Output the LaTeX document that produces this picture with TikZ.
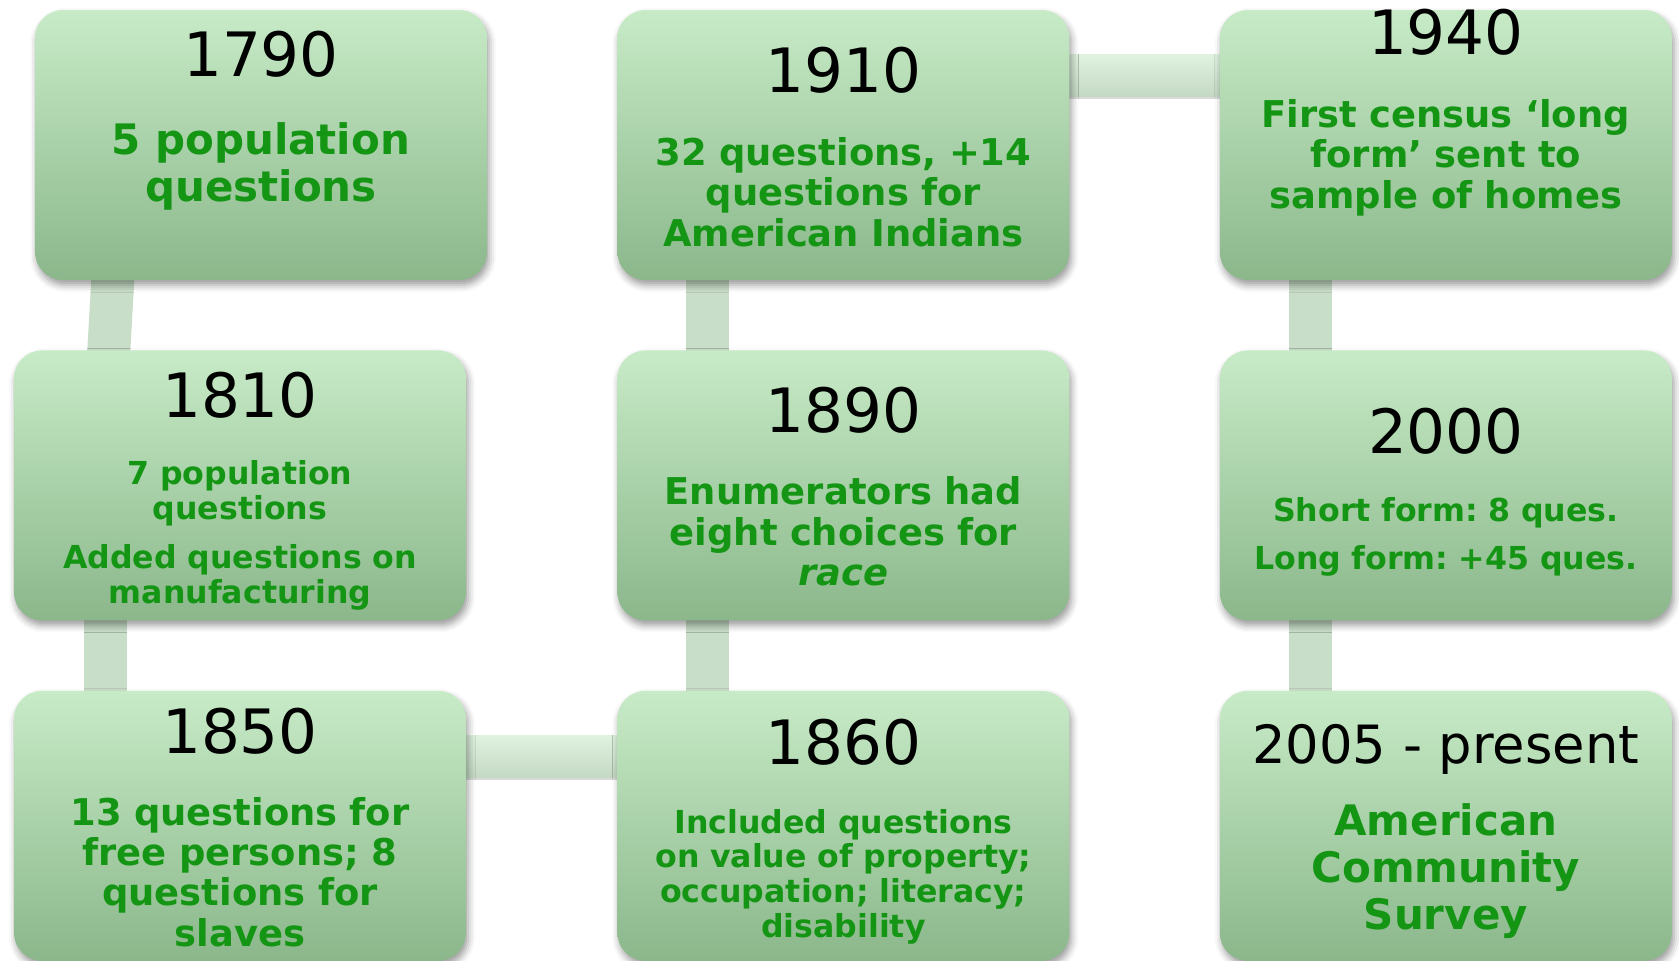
\documentclass[tikz,border=0pt]{standalone}
\usepackage{fontspec}
\setmainfont{DejaVu Sans}
\usepackage{tikz}
\usetikzlibrary{positioning,backgrounds,shadows,shadows.blur}
\usepackage{xcolor}
\frenchspacing

\definecolor{cardtop}{RGB}{199,235,199}
\definecolor{cardbot}{RGB}{139,183,139}
\definecolor{txtgreen}{RGB}{20,150,20}
\definecolor{linkgreen}{RGB}{201,222,201}
\definecolor{linktop}{RGB}{224,242,224}
\definecolor{linkbot}{RGB}{196,217,196}

\begin{document}
\begin{tikzpicture}[
    card/.style={rectangle, rounded corners=0.28cm, minimum width=4.52cm, minimum height=2.70cm, inner sep=0pt,
        top color=cardtop, bottom color=cardbot,
        blur shadow={shadow xshift=0.02cm, shadow yshift=-0.05cm, shadow blur radius=0.07cm}},
    yearlbl/.style={anchor=base, inner sep=0pt, font=\fontsize{17.4}{20}\selectfont},
    desc/.style={anchor=base, inner sep=0pt, text width=4.4cm, align=center, text=txtgreen},
    descL/.style={desc, font=\bfseries\fontsize{11.95}{13.4}\selectfont},
    descM/.style={desc, font=\bfseries\fontsize{10.5}{11.5}\selectfont},
    descS/.style={desc, font=\bfseries\fontsize{9}{9.9}\selectfont},
    vlink/.style={draw=linkgreen, line width=0.43cm},
    hlink/.style={top color=linktop, bottom color=linkbot, drop shadow={shadow xshift=0cm, shadow yshift=-0.03cm, opacity=0.3}}
]
\useasboundingbox (0,0) rectangle (16.79,-9.60);

\node[card] (b1790) at (2.61,-1.45) {};
\node[card, below=0.69cm of b1790, xshift=-0.21cm] (b1810) {};
\node[card, below=0.69cm of b1810] (b1850) {};
\node[card, right=1.50cm of b1850] (b1860) {};
\node[card, above=0.69cm of b1860] (b1890) {};
\node[card, above=0.69cm of b1890] (b1910) {};
\node[card, right=1.49cm of b1910] (b1940) {};
\node[card, below=0.69cm of b1940] (b2000) {};
\node[card, below=0.69cm of b2000] (b2005) {};

% Years
\node[yearlbl] (y1790) at ([yshift=-0.67cm]b1790.north) {1790};
\node[yearlbl] (y1810) at ([yshift=-0.68cm]b1810.north) {1810};
\node[yearlbl] (y1850) at ([yshift=-0.63cm]b1850.north) {1850};
\node[yearlbl] (y1860) at ([yshift=-0.74cm]b1860.north) {1860};
\node[yearlbl] (y1890) at ([yshift=-0.83cm]b1890.north) {1890};
\node[yearlbl] (y1910) at ([yshift=-0.83cm]b1910.north) {1910};
\node[yearlbl] (y1940) at ([yshift=-0.45cm]b1940.north) {1940};
\node[yearlbl] (y2000) at ([yshift=-1.04cm]b2000.north) {2000};
\node[yearlbl, font=\fontsize{15}{18}\selectfont] (y2005) at ([yshift=-0.73cm]b2005.north) {2005 - present};

% Descriptions
\node[descL] (d1790) at ([yshift=-1.45cm]b1790.north) {5 population\\questions};
\node[descS] (d1810) at ([yshift=-1.35cm]b1810.north) {7 population\\questions\\[4pt]Added questions on\\manufacturing};
\node[descM] (d1850) at ([yshift=-1.35cm]b1850.north) {13 questions for\\free persons; 8\\questions for\\slaves};
\node[descS] (d1860) at ([yshift=-1.43cm]b1860.north) {Included questions\\on value of property;\\occupation; literacy;\\disability};
\node[descM] (d1890) at ([yshift=-1.55cm]b1890.north) {Enumerators had\\eight choices for\\\textit{race}};
\node[descM] (d1910) at ([yshift=-1.56cm]b1910.north) {32 questions, +14\\questions for\\American Indians};
\node[descM] (d1940) at ([yshift=-1.18cm]b1940.north) {First census ‘long\\form’ sent to\\sample of homes};
\node[descS] (d2000) at ([yshift=-1.72cm]b2000.north) {Short form: 8 ques.\\[3.6pt]Long form: +45 ques.};
\node[descL] (d2005) at ([yshift=-1.45cm]b2005.north) {American\\Community\\Survey};

% Links behind the cards
\begin{scope}[on background layer]
\draw[vlink] ([xshift=0.79cm,yshift=0.1cm]b1790.south west) -- ([xshift=0.95cm,yshift=-0.1cm]b1810.north west);
\draw[vlink] ([xshift=0.92cm,yshift=0.1cm]b1810.south west) -- ([xshift=0.92cm,yshift=-0.1cm]b1850.north west);
\path[hlink] ([xshift=-0.1cm,yshift=-0.45cm]b1850.north east) rectangle ([xshift=0.1cm,yshift=-0.87cm]b1860.north west);
\draw[vlink] ([xshift=0.905cm,yshift=-0.1cm]b1860.north west) -- ([xshift=0.905cm,yshift=0.1cm]b1890.south west);
\draw[vlink] ([xshift=0.905cm,yshift=-0.1cm]b1890.north west) -- ([xshift=0.905cm,yshift=0.1cm]b1910.south west);
\path[hlink] ([xshift=-0.1cm,yshift=-0.45cm]b1910.north east) rectangle ([xshift=0.1cm,yshift=-0.87cm]b1940.north west);
\draw[vlink] ([xshift=0.915cm,yshift=0.1cm]b1940.south west) -- ([xshift=0.915cm,yshift=-0.1cm]b2000.north west);
\draw[vlink] ([xshift=0.915cm,yshift=0.1cm]b2000.south west) -- ([xshift=0.915cm,yshift=-0.1cm]b2005.north west);
\end{scope}
\end{tikzpicture}
\end{document}
